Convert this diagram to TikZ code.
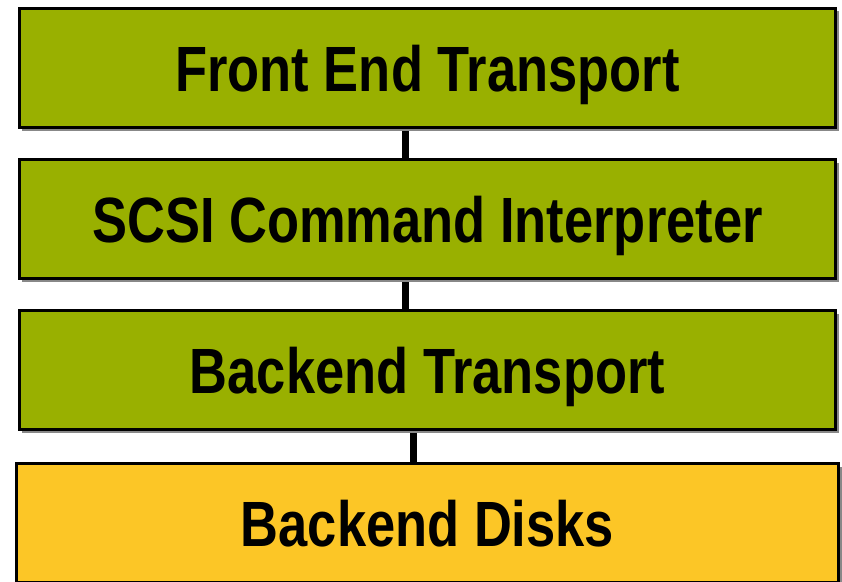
\documentclass[tikz,border=0pt]{standalone}
\usepackage{fontspec}
\setmainfont{Liberation Sans}
\usetikzlibrary{shadows,backgrounds}
\definecolor{layergreen}{RGB}{153,176,0}
\definecolor{diskyellow}{RGB}{252,198,38}
\definecolor{shadowgray}{RGB}{136,136,136}

\begin{document}
\begin{tikzpicture}[x=0.03cm,y=-0.03cm,
    layer/.style={draw=black,line width=0.09cm,fill=layergreen,
      minimum width=24.48cm,minimum height=3.57cm,inner sep=0pt,
      text height=1.38cm,text depth=0pt,
      drop shadow={shadow xshift=0.09cm,shadow yshift=-0.09cm,fill=shadowgray,opacity=1},
      font=\bfseries\fontsize{54.6}{60}\selectfont},
    link/.style={line width=0.21cm},
    linkshadow/.style={line width=0.21cm,shadowgray,xshift=0.09cm,yshift=-0.09cm}]
    \useasboundingbox (0,0) rectangle (842,581);
    \foreach \y/\n/\t in {68/fet/Front End Transport,219/sci/SCSI Command Interpreter,370/bet/Backend Transport}{
      \node[layer] (\n) at (427.5,\y) {\scalebox{0.82}[1]{\t}};
    }
    \node[layer,fill=diskyellow,minimum width=24.66cm,drop shadow={opacity=0}] (disk) at (427.5,523) {\scalebox{0.82}[1]{Backend Disks}};
    \begin{pgfonlayer}{background}
      \foreach \a/\b/\s in {fet/sci/-0.66cm,sci/bet/-0.66cm,bet/disk/-0.42cm}{
        \draw[linkshadow] ([xshift=\s]\a.south) -- ([xshift=\s]\b.north);
        \draw[link] ([xshift=\s]\a.south) -- ([xshift=\s]\b.north);
      }
    \end{pgfonlayer}
\end{tikzpicture}
\end{document}
